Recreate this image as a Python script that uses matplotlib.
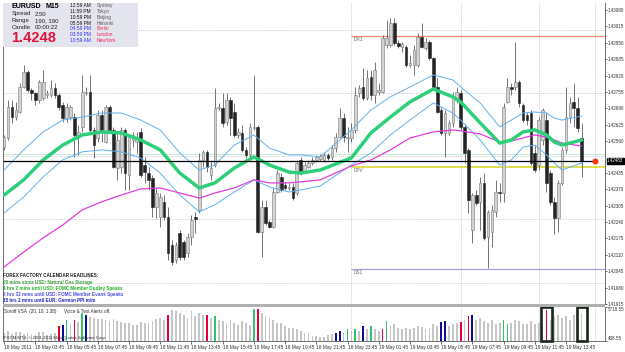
import matplotlib
matplotlib.use("Agg")
import matplotlib.pyplot as plt
from matplotlib.patches import Rectangle
from matplotlib.transforms import blended_transform_factory

plt.rcParams['font.family'] = ['Liberation Sans', 'DejaVu Sans']

W, H = 625, 352

# ---------------- data: EURUSD M15, 18 May 2011 01:45 .. 19 May 2011 14:45 ----------------
opens = [
    1.42536, 1.42572, 1.42697, 1.42657, 1.42677, 1.42776, 1.42836, 1.42763, 1.42750, 1.42724,
    1.42730, 1.42743, 1.42743, 1.42770, 1.42743, 1.42704, 1.42651, 1.42657, 1.42657, 1.42578,
    1.42618, 1.42750, 1.42757, 1.42605, 1.42572, 1.42664, 1.42558, 1.42697, 1.42605, 1.42453,
    1.42459, 1.42605, 1.42426, 1.42565, 1.42558, 1.42598, 1.42466, 1.42433, 1.42413, 1.42301,
    1.42261, 1.42321, 1.42261, 1.42149, 1.42089, 1.42195, 1.42162, 1.42116, 1.42182, 1.42261,
    1.42288, 1.42486, 1.42519, 1.42426, 1.42466, 1.42690, 1.42690, 1.42638, 1.42724, 1.42677,
    1.42585, 1.42591, 1.42525, 1.42506, 1.42611, 1.42618, 1.42202, 1.42301, 1.42241, 1.42222,
    1.42360, 1.42420, 1.42387, 1.42373, 1.42380, 1.42354, 1.42486, 1.42439, 1.42459, 1.42473,
    1.42486, 1.42490, 1.42486, 1.42506, 1.42498, 1.42533, 1.42577, 1.42652, 1.42573, 1.42573,
    1.42605, 1.42751, 1.42775, 1.42732, 1.42815, 1.42744, 1.42755, 1.42755, 1.42942, 1.42942,
    1.43029, 1.42950, 1.42934, 1.42934, 1.42862, 1.42862, 1.42862, 1.42973, 1.42930, 1.42954,
    1.42890, 1.42775, 1.42684, 1.42593, 1.42593, 1.42633, 1.42724, 1.42751, 1.42617, 1.42526,
    1.42208, 1.42347, 1.42319, 1.42395, 1.42181, 1.42201, 1.42280, 1.42359, 1.42355, 1.42716,
    1.42775, 1.42775, 1.42795, 1.42704, 1.42664, 1.42672, 1.42514, 1.42466, 1.42565, 1.42644,
    1.42434, 1.42319, 1.42256, 1.42395, 1.42526, 1.42656, 1.42716, 1.42692, 1.42573,
]
highs = [
    1.42585, 1.42724, 1.42724, 1.42717, 1.42790, 1.42862, 1.42842, 1.42770, 1.42757, 1.42803,
    1.42842, 1.42763, 1.42803, 1.42790, 1.42750, 1.42717, 1.42710, 1.42704, 1.42671, 1.42624,
    1.42823, 1.42776, 1.42823, 1.42618, 1.42684, 1.42684, 1.42704, 1.42704, 1.42618, 1.42591,
    1.42618, 1.42611, 1.42585, 1.42598, 1.42598, 1.42611, 1.42499, 1.42459, 1.42426, 1.42373,
    1.42354, 1.42347, 1.42301, 1.42169, 1.42162, 1.42208, 1.42169, 1.42195, 1.42268, 1.42281,
    1.42512, 1.42525, 1.42525, 1.42486, 1.42770, 1.42710, 1.42750, 1.42750, 1.42737, 1.42710,
    1.42611, 1.42624, 1.42539, 1.42631, 1.42823, 1.42624, 1.42327, 1.42327, 1.42248, 1.42373,
    1.42446, 1.42433, 1.42400, 1.42393, 1.42393, 1.42486, 1.42499, 1.42479, 1.42486, 1.42499,
    1.42506, 1.42510, 1.42518, 1.42514, 1.42545, 1.42593, 1.42692, 1.42672, 1.42617, 1.42633,
    1.42775, 1.42783, 1.42850, 1.42843, 1.42843, 1.42874, 1.42791, 1.42981, 1.43041, 1.43049,
    1.43049, 1.42961, 1.42954, 1.42942, 1.42902, 1.42942, 1.42989, 1.43029, 1.42969, 1.42961,
    1.42894, 1.42811, 1.42696, 1.42684, 1.42644, 1.42755, 1.42775, 1.42763, 1.42625, 1.42533,
    1.42355, 1.42367, 1.42419, 1.42434, 1.42287, 1.42307, 1.42407, 1.42395, 1.42712, 1.42811,
    1.42791, 1.42954, 1.42803, 1.42712, 1.42676, 1.42684, 1.42545, 1.42656, 1.42692, 1.42676,
    1.42446, 1.42339, 1.42407, 1.42537, 1.42775, 1.42736, 1.42791, 1.42736, 1.42633,
]
lows = [
    1.42525, 1.42565, 1.42631, 1.42644, 1.42671, 1.42770, 1.42757, 1.42724, 1.42704, 1.42710,
    1.42724, 1.42730, 1.42737, 1.42730, 1.42684, 1.42638, 1.42638, 1.42644, 1.42499, 1.42506,
    1.42598, 1.42743, 1.42598, 1.42492, 1.42558, 1.42558, 1.42552, 1.42598, 1.42453, 1.42406,
    1.42433, 1.42367, 1.42367, 1.42539, 1.42512, 1.42420, 1.42393, 1.42367, 1.42261, 1.42255,
    1.42222, 1.42248, 1.42089, 1.42070, 1.42076, 1.42089, 1.42089, 1.42103, 1.42149, 1.42195,
    1.42274, 1.42459, 1.42439, 1.42406, 1.42459, 1.42684, 1.42618, 1.42624, 1.42585, 1.42578,
    1.42572, 1.42519, 1.42492, 1.42486, 1.42605, 1.42195, 1.42103, 1.42228, 1.42215, 1.42215,
    1.42354, 1.42360, 1.42367, 1.42367, 1.42327, 1.42347, 1.42426, 1.42433, 1.42453, 1.42466,
    1.42479, 1.42482, 1.42478, 1.42486, 1.42486, 1.42518, 1.42573, 1.42557, 1.42518, 1.42557,
    1.42593, 1.42736, 1.42724, 1.42724, 1.42724, 1.42712, 1.42744, 1.42751, 1.42930, 1.42934,
    1.42942, 1.42930, 1.42914, 1.42854, 1.42854, 1.42823, 1.42854, 1.42930, 1.42922, 1.42882,
    1.42771, 1.42672, 1.42585, 1.42498, 1.42585, 1.42617, 1.42712, 1.42605, 1.42474, 1.42276,
    1.42157, 1.42307, 1.42208, 1.42169, 1.42058, 1.42141, 1.42260, 1.42319, 1.42319, 1.42712,
    1.42744, 1.42763, 1.42696, 1.42637, 1.42625, 1.42466, 1.42438, 1.42446, 1.42545, 1.42359,
    1.42307, 1.42192, 1.42201, 1.42387, 1.42514, 1.42633, 1.42617, 1.42597, 1.42419,
]
closes = [
    1.42578, 1.42697, 1.42657, 1.42684, 1.42776, 1.42836, 1.42763, 1.42750, 1.42724, 1.42796,
    1.42796, 1.42750, 1.42770, 1.42743, 1.42697, 1.42651, 1.42697, 1.42697, 1.42585, 1.42598,
    1.42757, 1.42757, 1.42605, 1.42545, 1.42664, 1.42605, 1.42697, 1.42605, 1.42459, 1.42565,
    1.42605, 1.42433, 1.42578, 1.42585, 1.42578, 1.42426, 1.42439, 1.42406, 1.42301, 1.42354,
    1.42341, 1.42261, 1.42116, 1.42083, 1.42149, 1.42103, 1.42103, 1.42182, 1.42248, 1.42253,
    1.42486, 1.42519, 1.42459, 1.42453, 1.42690, 1.42697, 1.42631, 1.42724, 1.42651, 1.42585,
    1.42598, 1.42525, 1.42506, 1.42618, 1.42618, 1.42202, 1.42301, 1.42235, 1.42222, 1.42360,
    1.42433, 1.42367, 1.42373, 1.42380, 1.42334, 1.42473, 1.42433, 1.42466, 1.42473, 1.42486,
    1.42499, 1.42502, 1.42506, 1.42494, 1.42533, 1.42577, 1.42652, 1.42577, 1.42577, 1.42605,
    1.42744, 1.42771, 1.42732, 1.42811, 1.42744, 1.42843, 1.42763, 1.42969, 1.42969, 1.43029,
    1.42950, 1.42938, 1.42946, 1.42862, 1.42870, 1.42922, 1.42973, 1.42934, 1.42954, 1.42890,
    1.42775, 1.42676, 1.42593, 1.42672, 1.42633, 1.42736, 1.42755, 1.42617, 1.42514, 1.42327,
    1.42347, 1.42315, 1.42395, 1.42177, 1.42280, 1.42287, 1.42359, 1.42355, 1.42696, 1.42775,
    1.42767, 1.42795, 1.42712, 1.42644, 1.42644, 1.42474, 1.42446, 1.42644, 1.42684, 1.42395,
    1.42319, 1.42256, 1.42395, 1.42526, 1.42656, 1.42712, 1.42692, 1.42613, 1.42483,
]

# indicator lines at these bars
ma_bars = [0, 5, 10, 15, 20, 25, 30, 35, 40, 45, 50, 54, 59, 64, 68, 73, 76, 81, 89, 94,
           99, 104, 110, 115, 117, 122, 127, 130, 133, 136, 139, 141, 143, 148]
ema_fast = [1.42347, 1.42407, 1.42486, 1.42545, 1.42585, 1.42597, 1.42593, 1.42565, 1.42526, 1.42434,
            1.42375, 1.42395, 1.42454, 1.42498, 1.42466, 1.42438, 1.42434, 1.42446, 1.42494, 1.42593,
            1.42656, 1.42716, 1.42767, 1.42736, 1.42716, 1.42633, 1.42553, 1.42565, 1.42597, 1.42605,
            1.42585, 1.42557, 1.42545, 1.42565]
band_upper = [1.42446, 1.42526, 1.42597, 1.42644, 1.42656, 1.42672, 1.42672, 1.42644, 1.42605, 1.42514,
              1.42446, 1.42466, 1.42545, 1.42585, 1.42533, 1.42506, 1.42506, 1.42498, 1.42605, 1.42684,
              1.42736, 1.42775, 1.42823, 1.42803, 1.42775, 1.42712, 1.42617, 1.42644, 1.42672, 1.42676,
              1.42672, 1.42652, 1.42644, 1.42660]
band_lower = [1.42276, 1.42339, 1.42419, 1.42486, 1.42518, 1.42526, 1.42518, 1.42494, 1.42434, 1.42347,
              1.42280, 1.42308, 1.42359, 1.42407, 1.42379, 1.42359, 1.42367, 1.42383, 1.42466, 1.42514,
              1.42585, 1.42644, 1.42712, 1.42672, 1.42644, 1.42565, 1.42466, 1.42486, 1.42537, 1.42545,
              1.42506, 1.42474, 1.42446, 1.42474]
ma_slow = [1.42062, 1.42121, 1.42177, 1.42228, 1.42288, 1.42320, 1.42347, 1.42371, 1.42375, 1.42355,
           1.42335, 1.42355, 1.42375, 1.42407, 1.42395, 1.42395, 1.42399, 1.42407, 1.42462, 1.42486,
           1.42526, 1.42573, 1.42597, 1.42605, 1.42601, 1.42589, 1.42557, 1.42561, 1.42573, 1.42585,
           1.42577, 1.42565, 1.42553, 1.42541]

volumes = [
    1700, 2000, 1500, 1800, 1900, 1600, 1700, 1500, 1400, 1800,
    1900, 1300, 1500, 1700, 2745, 3000, 3667, 3300, 3667, 3400,
    4795, 4400, 4200, 4000, 3800, 3900, 3700, 3600, 3800, 3500,
    3400, 3300, 3200, 3000, 2900, 3400, 3300, 3200, 3600, 3800,
    4000, 3700, 4539, 5300, 5050, 4800, 4540, 4030, 5050, 4280,
    4800, 4500, 4540, 4030, 4385, 3770, 3500, 3300, 3770, 3250,
    3000, 3500, 3250, 3000, 5410, 5460, 4795, 4282, 4026, 3770,
    3257, 3257, 2745, 2488, 2488, 2232, 1976, 1720, 1720, 1207,
    1207, 1104, 1104, 1310, 1463, 1720, 1976, 1720, 2232, 1976,
    2335, 1976, 2745, 2232, 2745, 2335, 1976, 2335, 3514, 2745,
    3001, 2488, 2232, 2488, 2232, 2488, 2745, 2640, 2335, 2488,
    3001, 2745, 3411, 3514, 2745, 3001, 3257, 3411, 3770, 4385,
    4539, 3770, 4026, 3514, 3257, 3770, 3001, 3257, 3770, 3155,
    3257, 3770, 3514, 3001, 3155, 3514, 3001, 3257, 2745, 5308,
    3770, 4282, 4539, 4026, 4282, 3770, 4539, 3514, 4795,
]
# Soroff VSA bar class: g=neutral, r=red, e=green, n=navy
vsa_class = ("gggggggggggggg" "rnegrgen" "gggggggggggggggggggg" "r" "ggggggggg" "rge"
             "ggggggggg" "er" "ggggggggggggggggggg" "nngegegngeggre" "ggggggggggggg"
             "nngggrgrn" "ggggggg" "ee" "ggggggggg" "r" "ggggggggg")

time_label_bars = [0, 8, 16, 24, 32, 40, 48, 56, 64, 72, 80, 88, 96, 104, 112, 120, 128, 136, 144]
time_labels = ["18 May 2011", "18 May 03:45", "18 May 05:45", "18 May 07:45", "18 May 09:45",
               "18 May 11:45", "18 May 13:45", "18 May 15:45", "18 May 17:45", "18 May 19:45",
               "18 May 21:45", "18 May 23:45", "19 May 01:45", "19 May 03:45", "19 May 05:45",
               "19 May 07:45", "19 May 09:45", "19 May 11:45", "19 May 13:45"]

price_ticks = [1.43080, 1.43015, 1.42950, 1.42885, 1.42820, 1.42755, 1.42690, 1.42625, 1.42560,
               1.42435, 1.42370, 1.42305, 1.42240, 1.42175, 1.42110, 1.42045, 1.41980, 1.41915]
pivot_r1, pivot_p, pivot_s1 = 1.42977, 1.42458, 1.42054
pivot_start_bar = 89
bid, ask = 1.42483, 1.42508
grid_prices = [1.4300, 1.4275, 1.4250, 1.4225, 1.4200]
session_bars = [89, 117, 137, 151.5]
highlight_bars = [139, 148]
vol_min, vol_max = 438.55, 5718.55

tz_times = ["12:59 AM", "11:59 PM", "10:59 PM", "05:59 PM", "04:59 PM", "03:59 PM", "10:59 AM"]
tz_cities = ["Sydney", "Tokyo", "Beijing", "Helsinki", "Berlin", "London", "NewYork"]
headlines = ["20 mins since USD: Natural Gas Storage",
             "1 hrs 2 mins until USD: FOMC Member Dudley Speaks",
             "2 hrs 32 mins until USD: FOMC Member Evans Speaks",
             "15 hrs 2 mins until EUR: German PPI m/m"]

# ---------------- drawing ----------------
XMIN, XMAX = -0.3, 154.0
YMIN, YMAX = 1.41915, 1.43108
AXIS_FS = 3.25


def fx(x):
    return x / W


def fy(y):
    return 1 - y / H


fig = plt.figure(figsize=(W / 100, H / 100), dpi=100)
fig.patch.set_facecolor('white')
ax = fig.add_axes([fx(3), fy(304), 602 / W, 301 / H])
ax2 = fig.add_axes([fx(3), fy(341), 602 / W, 34 / H])

ax.set_xlim(XMIN, XMAX)
ax.set_ylim(YMIN, YMAX)
grid_style = dict(color='#BDBDBD', lw=0.5, linestyles=(0, (1.5, 1.5)))
ax.hlines(grid_prices, XMIN, XMAX, zorder=0.5, **grid_style)
ax.vlines(session_bars, YMIN, YMAX, zorder=0.5, **grid_style)
ax.hlines(ask, XMIN, XMAX, color='#C6EAD4', lw=0.7, zorder=1)

# pivots
ax.hlines(pivot_r1, pivot_start_bar, XMAX, color='#F48A72', lw=0.9, zorder=1.2)
ax.hlines(pivot_p, pivot_start_bar, XMAX, color='#D6D61E', lw=1.1, zorder=1.2)
ax.hlines(pivot_s1, pivot_start_bar, XMAX, color='#9C9CE2', lw=0.8, zorder=1.2)
for lvl, name in [(pivot_r1, "DR1"), (pivot_p, "DPV"), (pivot_s1, "DS1")]:
    ax.text(pivot_start_bar + 0.6, lvl - 0.00003, name, fontsize=3.4, color='#6A6A6A',
            va='top', ha='left', zorder=1.3)

# candles
for i, (o, h, l, c) in enumerate(zip(opens, highs, lows, closes)):
    ax.vlines(i, l, h, color='#4E4E5E', lw=0.55, zorder=2)
    bull = c >= o
    bottom = min(o, c)
    height = max(abs(c - o), 0.00003)
    ax.add_patch(Rectangle((i - 0.34, bottom), 0.68, height,
                           facecolor='#D2D2D2' if bull else '#242424',
                           edgecolor='#7C7C7C' if bull else '#242424',
                           lw=0.4, zorder=3))

# indicators
ax.plot(ma_bars, band_upper, color='#63B0F0', lw=0.7, zorder=4)
ax.plot(ma_bars, band_lower, color='#63B0F0', lw=0.7, zorder=4)
ax.plot(ma_bars, ma_slow, color='#E03EDC', lw=0.9, zorder=4)
ax.plot(ma_bars, ema_fast, color='#2ECF7A', lw=2.5, zorder=4.5, solid_capstyle='round',
        solid_joinstyle='round')

# bid line + marker
ax.hlines(bid, XMIN, session_bars[-1], color='black', lw=0.9, zorder=6)
ax.plot([session_bars[-1]], [bid], 'o', color='#FF3A10', ms=3.3, zorder=7)

for s in ['top', 'bottom']:
    ax.spines[s].set_visible(False)
for s in ['left', 'right']:
    ax.spines[s].set_color('#6E6E6E')
    ax.spines[s].set_linewidth(0.7)
ax.set_xticks([])
ax.yaxis.tick_right()
ax.set_yticks(price_ticks)
ax.set_yticklabels([f"{p:.5f}" for p in price_ticks])
ax.tick_params(axis='y', labelsize=AXIS_FS, length=1.5, width=0.5, pad=0.6, colors='#303030')

tr = blended_transform_factory(ax.transAxes, ax.transData)
ax.text(1.0035, bid, f"{bid:.5f}", transform=tr, fontsize=AXIS_FS, color='white', va='center',
        ha='left', zorder=10, clip_on=False,
        bbox=dict(boxstyle='square,pad=0.12', fc='black', ec='black'))

# volume panel
vsa_colors = {'g': '#C6C6C6', 'r': '#E5003A', 'e': '#2EC46E', 'n': '#0C0C96'}
ax2.set_xlim(XMIN, XMAX)
ax2.set_ylim(vol_min, vol_max)
ax2.vlines(session_bars, vol_min, vol_max, zorder=0.5, **grid_style)
ax2.bar(range(len(volumes)), volumes, width=0.45,
        color=[vsa_colors[k] for k in vsa_class], zorder=2)
for b in highlight_bars:
    ax2.add_patch(Rectangle((b - 1.3, vol_min + 60), 2.6, vol_max - vol_min - 120, fill=False,
                            ec='#1A261A', lw=1.9, zorder=4, clip_on=False))
ax2.spines['top'].set_visible(False)
for s in ['left', 'right', 'bottom']:
    ax2.spines[s].set_color('#6E6E6E')
    ax2.spines[s].set_linewidth(0.7)
ax2.yaxis.tick_right()
ax2.set_yticks([vol_max, vol_min])
ax2.set_yticklabels([f"{vol_max:.2f}", f"{vol_min:.2f}"])
ax2.tick_params(axis='y', labelsize=AXIS_FS, length=1.5, width=0.5, pad=0.6, colors='#303030')
for lab, va in zip(ax2.get_yticklabels(), ['top', 'bottom']):
    lab.set_verticalalignment(va)
ax2.set_xticks(time_label_bars)
ax2.set_xticklabels(time_labels, ha='left')
ax2.tick_params(axis='x', labelsize=3.4, length=2, width=0.5, pad=1.2, colors='#303030')

# separator between panels
fig.add_artist(Rectangle((fx(3), fy(307)), 602 / W, 3 / H, transform=fig.transFigure,
                         fc='#B0B0B0', ec='none', zorder=3))

fig.text(fx(4), fy(311.5), "Soroff VSA  (20, 10, 1.38)", fontsize=3.3, color='#303030',
         va='center', zorder=6)
fig.text(fx(64), fy(311.5), "Voice & Text Alerts off.", fontsize=3.3, color='#303030',
         va='center', zorder=6)
fig.text(fx(4), fy(337.5), "FXCM MT4, \u00a9 2001-2011 MetaQuotes Software Corp.", fontsize=3.1,
         color='#303030', va='center', zorder=6)

# info box
fig.add_artist(Rectangle((fx(3), fy(47)), 135 / W, 44 / H, transform=fig.transFigure,
                         fc='#E4E4EE', ec='none', zorder=5))
fig.text(fx(12), fy(6), "EURUSD", fontsize=5, weight='bold', va='center', zorder=6)
fig.text(fx(46), fy(6), "M15", fontsize=5, weight='bold', va='center', zorder=6)
for yy, k, v in [(14, "Spread", "2.50"), (20.5, "Range", "190, 190"), (27.5, "Candle", "00:00:22")]:
    fig.text(fx(12), fy(yy), k, fontsize=4.3, va='center', zorder=6, color='#202020')
    fig.text(fx(35), fy(yy), v, fontsize=4.3, va='center', zorder=6, color='#202020')
fig.text(fx(11.5), fy(38.5), "1.4248", fontsize=10.5, weight='bold', color='#DC143C',
         va='center', zorder=6)
tz_rows = [5.7, 11.7, 17.3, 23.3, 29.0, 34.7, 40.7]
for j, (t, cname, yy) in enumerate(zip(tz_times, tz_cities, tz_rows)):
    late = j >= 4
    fig.text(fx(70), fy(yy), t, fontsize=3.5, va='center', zorder=6,
             color='#3030F0' if late else '#101010')
    fig.text(fx(97), fy(yy), cname, fontsize=3.5, va='center', zorder=6,
             color='#F02C5C' if late else '#5A5A5A')

# headlines
fig.text(fx(3), fy(275.7), "FOREX FACTORY CALENDAR HEADLINES:", fontsize=3.3, weight='bold',
         color='#202020', va='center', zorder=6)
hl_colors = ['#3A9E3A', '#22B022', '#4C4CE6', '#2222C8']
for yy, txt, col in zip([282.8, 288.8, 294.7, 300.3], headlines, hl_colors):
    fig.text(fx(3), fy(yy), txt, fontsize=3.3, weight='bold', color=col, va='center', zorder=6)

fig.savefig("out.png", dpi=100)
